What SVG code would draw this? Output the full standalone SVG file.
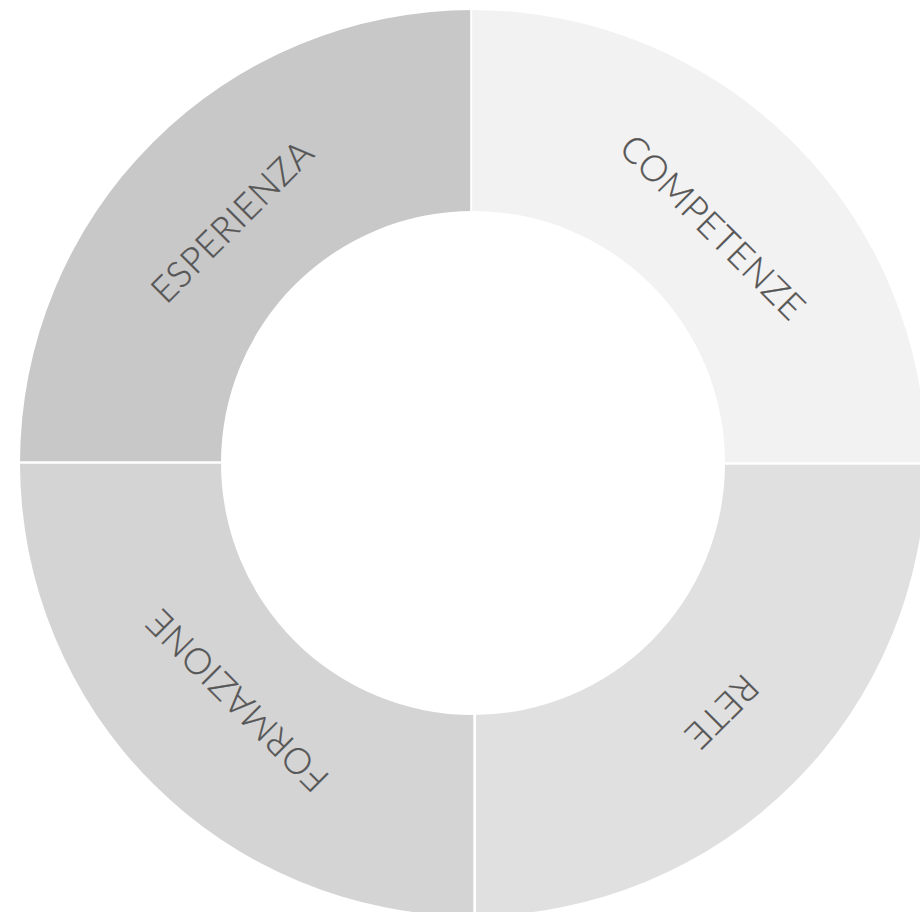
<svg xmlns="http://www.w3.org/2000/svg" width="920" height="912" viewBox="0 0 920 912">
<style>
.lbl{font-family:Lato,"Open Sans","Liberation Sans",sans-serif;font-weight:300;font-size:36px;fill:#555555;letter-spacing:0.6px;text-anchor:middle;stroke:#555555;stroke-width:0.35px}
.gap{stroke:#ffffff;stroke-width:2.6;fill:none}
</style>
<rect width="920" height="912" fill="#ffffff"/>
<g id="esperienza">
<path d="M 20,463 A 453 453 0 0 1 473,10 L 473,211 A 252 252 0 0 0 221,463 Z" fill="#c8c8c8"/>
<text class="lbl" transform="translate(232,221) rotate(-45)" y="13">ESPERIENZA</text>
</g>
<g id="competenze">
<path d="M 473,10 A 453 453 0 0 1 926,463 L 725,463 A 252 252 0 0 0 473,211 Z" fill="#f2f2f2"/>
<text class="lbl" transform="translate(713,227) rotate(45)" y="13">COMPETENZE</text>
</g>
<g id="rete">
<path d="M 926,463 A 453 453 0 0 1 473,916 L 473,715 A 252 252 0 0 0 725,463 Z" fill="#e0e0e0"/>
<text class="lbl" transform="translate(722,712) rotate(135)" y="13">RETE</text>
</g>
<g id="formazione">
<path d="M 473,916 A 453 453 0 0 1 20,463 L 221,463 A 252 252 0 0 0 473,715 Z" fill="#d4d4d4"/>
<text class="lbl" transform="translate(237,701) rotate(-135)" y="13">FORMAZIONE</text>
</g>
<g id="gaps">
<line class="gap" x1="471.5" y1="0" x2="471.5" y2="216"/>
<line class="gap" x1="474.7" y1="708" x2="474.7" y2="912"/>
<line class="gap" x1="0" y1="462.5" x2="228" y2="462.5"/>
<line class="gap" x1="718" y1="463.5" x2="920" y2="463.5"/>
</g>
</svg>
